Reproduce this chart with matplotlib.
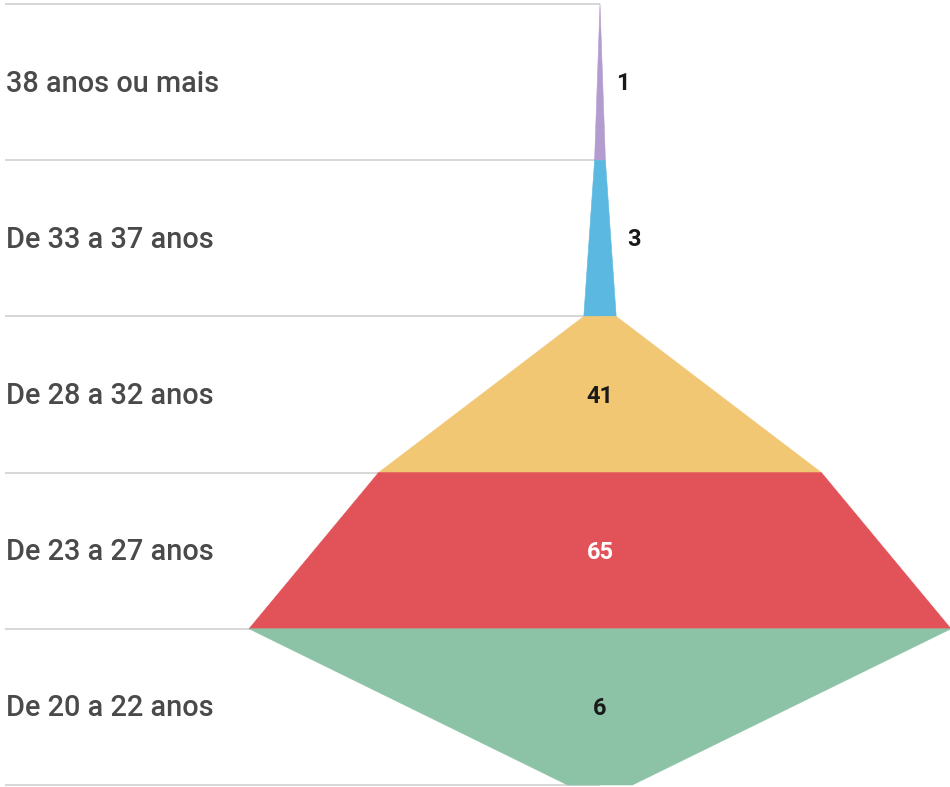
import matplotlib.pyplot as plt
from matplotlib.patches import Polygon

plt.rcParams['font.family'] = ['Roboto', 'DejaVu Sans']

# dados (de cima para baixo)
categorias = ['38 anos ou mais', 'De 33 a 37 anos', 'De 28 a 32 anos',
              'De 23 a 27 anos', 'De 20 a 22 anos']
valores = [1, 3, 41, 65, 6]
cores = ['#b39ccf', '#5bb8e0', '#f1c774', '#e15259', '#8cc3a6']
cor_texto_valor = ['#1a1a1a', '#1a1a1a', '#1a1a1a', '#ffffff', '#1a1a1a']

W, H = 950, 787
fig = plt.figure(figsize=(W / 100, H / 100), dpi=100)
ax = fig.add_axes([0, 0, 1, 1])

# escala: ~10.8 px por unidade, centro do funil em x=600 px
px_unid = 10.8
x_min = -600 / px_unid
x_max = (W - 600) / px_unid
n = len(valores)
row_px = (785 - 4) / n
y_top = -4 / row_px
y_bot = n + (H - 785) / row_px
ax.set_xlim(x_min, x_max)
ax.set_ylim(y_bot, y_top)
ax.axis('off')

# linhas de grade
for i in range(n + 1):
    ax.plot([x_min + 5 / px_unid, 0], [i, i], color='#d4d4d4', lw=1.3,
            solid_capstyle='butt', zorder=1)

anterior = 0
for i, (cat, v) in enumerate(zip(categorias, valores)):
    a = anterior / 2
    b = v / 2
    poly = Polygon([(-a, i), (a, i), (b, i + 1), (-b, i + 1)],
                   closed=True, facecolor=cores[i], edgecolor=cores[i],
                   lw=0.4, zorder=2)
    ax.add_patch(poly)
    ax.text(x_min + 6 / px_unid, i + 0.51, cat, ha='left', va='center',
            fontsize=20.8, fontweight='medium', color='#4a4a4a', zorder=3)
    meio = (a + b) / 2
    if meio * px_unid < 30:
        ax.text(max(a, b) + 11 / px_unid, i + 0.51, str(v), ha='left', va='center',
                fontsize=17, fontweight='bold', color=cor_texto_valor[i], zorder=3)
    else:
        ax.text(0, i + 0.51, str(v), ha='center', va='center',
                fontsize=17, fontweight='bold', color=cor_texto_valor[i], zorder=3)
    anterior = v

fig.savefig('out.png', dpi=100)
